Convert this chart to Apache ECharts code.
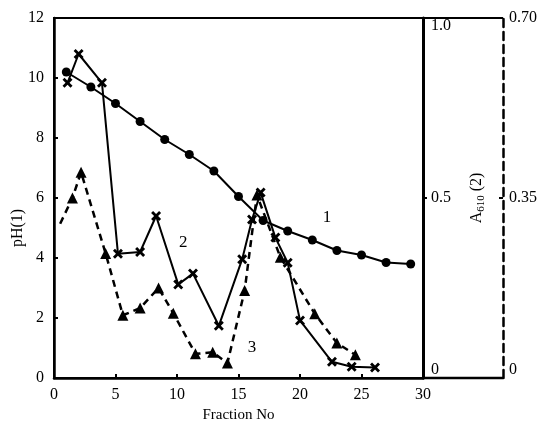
<!DOCTYPE html>
<html>
<head>
<meta charset="utf-8">
<script src="https://cdn.jsdelivr.net/npm/echarts@6/dist/echarts.min.js"></script>
<style>
  html, body { margin: 0; padding: 0; background: #fff; }
  #chart { width: 543px; height: 431px; }
</style>
</head>
<body>
<div id="chart"></div>
<script>
// curve 1: pH (left axis)
var phFraction = [1, 3, 5, 7, 9, 11, 13, 15, 17, 19, 21, 23, 25, 27, 29]
var phValue = [10.2, 9.7, 9.15, 8.55, 7.95, 7.45, 6.9, 6.05, 5.25, 4.9, 4.6, 4.25, 4.1, 3.85, 3.8]

// curve 2: A610 on the solid right axis (0 - 1.0)
var a2Fraction = [1.1, 2.0, 3.9, 5.2, 7.0, 8.3, 10.1, 11.3, 13.4, 15.3, 16.1, 16.8, 18.0, 19.0, 20.0, 22.6, 24.2, 26.1]
var a2Value = [0.82, 0.9, 0.82, 0.345, 0.35, 0.45, 0.26, 0.29, 0.145, 0.33, 0.44, 0.515, 0.39, 0.32, 0.16, 0.045, 0.031, 0.029]

// curve 3: A610 on the dashed right axis (0 - 0.70)
var a3Fraction = [0.5, 1.5, 2.2, 4.2, 5.6, 7.0, 8.5, 9.7, 11.5, 12.9, 14.1, 15.5, 16.5, 18.4, 21.2, 23.0, 24.5]
var a3Value = [0.3, 0.35, 0.4, 0.242, 0.122, 0.136, 0.175, 0.126, 0.047, 0.05, 0.029, 0.17, 0.356, 0.235, 0.125, 0.068, 0.045]

// curve number labels, placed in pH units
var curveLabels = [
  { name: "1", x: 22.2, y: 5.35 },
  { name: "2", x: 10.5, y: 4.5 },
  { name: "3", x: 16.1, y: 1.0 },
]

var serif = "Liberation Serif"
var gridLeft = 54, gridTop = 18, gridRight = 120, gridBottom = 53
var W = 543, H = 431
var extraAxisOffset = 80

function pairs(xs, ys) {
  return xs.map(function(x, i) { return [x, ys[i]] })
}

var xSymbol = "path://M0,2L2,0L5,3L8,0L10,2L7,5L10,8L8,10L5,7L2,10L0,8L3,5Z"

var chart = echarts.init(document.getElementById("chart"), null, { renderer: "canvas" })

var a3Data = pairs(a3Fraction, a3Value).map(function(p, i) {
  return i === 0 ? { value: p, symbol: "none" } : p
})

var axisLabelStyle = { color: "#000", fontFamily: serif, fontSize: 16 }

var option = {
  animation: false,
  backgroundColor: "#fff",
  grid: {
    left: gridLeft, top: gridTop, right: gridRight, bottom: gridBottom,
    containLabel: false,
    outerBoundsMode: "none",
    show: true, borderColor: "#000", borderWidth: 2,
  },
  xAxis: {
    type: "value",
    min: 0, max: 30, interval: 5,
    axisLine: { lineStyle: { color: "#000", width: 2.5 } },
    axisTick: { inside: true, length: 4, lineStyle: { color: "#000", width: 2 } },
    axisLabel: Object.assign({ margin: 9 }, axisLabelStyle),
    splitLine: { show: false },
    name: "Fraction No",
    nameLocation: "middle",
    nameGap: 25,
    nameTextStyle: { color: "#000", fontFamily: serif, fontSize: 15 },
  },
  yAxis: [
    {
      type: "value", position: "left",
      min: 0, max: 12, interval: 2,
      axisLine: { show: true, lineStyle: { color: "#000", width: 2.5 } },
      axisTick: { show: true, inside: true, length: 4, lineStyle: { color: "#000", width: 2 } },
      axisLabel: Object.assign({ margin: 10 }, axisLabelStyle),
      splitLine: { show: false },
      name: "pH(1)",
      nameLocation: "middle",
      nameRotate: 90,
      nameGap: 28,
      nameMoveOverlap: false,
      nameTextStyle: { color: "#000", fontFamily: serif, fontSize: 16, padding: [0, 60, 0, 0] },
    },
    {
      type: "value", position: "right",
      min: 0, max: 1, interval: 0.5,
      axisLine: { show: true, lineStyle: { color: "#000", width: 3 } },
      axisTick: { show: true, length: 4, lineStyle: { color: "#000", width: 2 } },
      axisLabel: Object.assign({
        margin: 8,
        verticalAlignMaxLabel: "top",
        verticalAlignMinLabel: "bottom",
        formatter: function(v) { return v === 0 ? "0" : v.toFixed(1) },
      }, axisLabelStyle),
      splitLine: { show: false },
      name: "{a|A}{s|610}{a| (2)}",
      nameLocation: "middle",
      nameRotate: 90,
      nameGap: 44,
      nameTextStyle: {
        rich: {
          a: { color: "#000", fontFamily: serif, fontSize: 16, lineHeight: 20 },
          s: { color: "#000", fontFamily: serif, fontSize: 11, lineHeight: 20, verticalAlign: "bottom", padding: [8, 0, 0, 0] },
        },
      },
    },
    {
      type: "value", position: "right", offset: extraAxisOffset,
      min: 0, max: 0.7, interval: 0.35,
      axisLine: { show: true, lineStyle: { color: "#000", width: 2.5, type: [8, 5] } },
      axisTick: { show: true, inside: true, length: 4, lineStyle: { color: "#000", width: 2 } },
      axisLabel: Object.assign({
        margin: 6,
        verticalAlignMinLabel: "bottom",
        formatter: function(v) { return v === 0 ? "0" : v.toFixed(2) },
      }, axisLabelStyle),
      splitLine: { show: false },
    },
  ],
  graphic: [
    {
      type: "line",
      shape: { x1: W - gridRight, y1: gridTop, x2: W - gridRight + extraAxisOffset, y2: gridTop },
      style: { stroke: "#000", lineWidth: 2 },
    },
    {
      type: "line",
      shape: { x1: W - gridRight, y1: H - gridBottom, x2: W - gridRight + extraAxisOffset, y2: H - gridBottom },
      style: { stroke: "#000", lineWidth: 2.5 },
    },
  ],
  series: [
    {
      name: "pH",
      type: "line",
      yAxisIndex: 0,
      data: pairs(phFraction, phValue),
      symbol: "circle",
      symbolSize: 9,
      itemStyle: { color: "#000" },
      lineStyle: { color: "#000", width: 2 },
      markPoint: {
        symbol: "circle",
        symbolSize: 1,
        itemStyle: { color: "rgba(0,0,0,0)" },
        label: { show: true, position: "inside", color: "#000", fontFamily: serif, fontSize: 17,
          formatter: function(p) { return p.name } },
        data: curveLabels.map(function(l) { return { name: l.name, coord: [l.x, l.y] } }),
      },
    },
    {
      name: "A610 (2)",
      type: "line",
      yAxisIndex: 1,
      data: pairs(a2Fraction, a2Value),
      symbol: xSymbol,
      symbolSize: 10,
      itemStyle: { color: "#000" },
      lineStyle: { color: "#000", width: 2 },
    },
    {
      name: "A610 (3)",
      type: "line",
      yAxisIndex: 2,
      data: a3Data,
      symbol: "triangle",
      symbolSize: 11,
      itemStyle: { color: "#000" },
      lineStyle: { color: "#000", width: 2.5, type: [7, 5] },
    },
  ],
}

chart.setOption(option)
</script>
</body>
</html>
